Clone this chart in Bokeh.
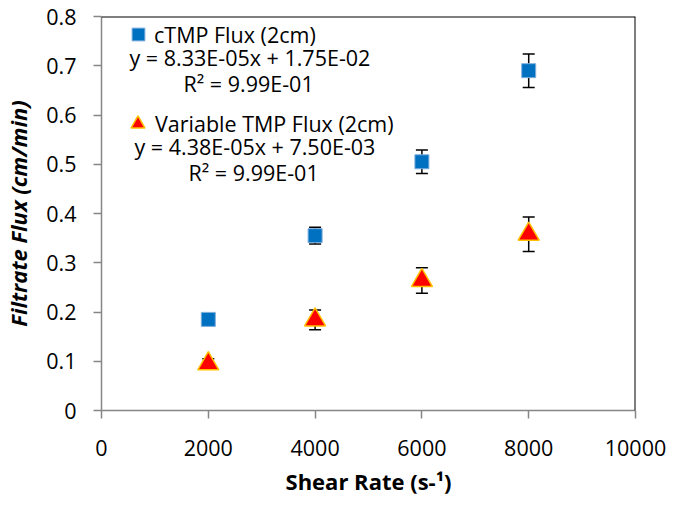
from bokeh.plotting import figure
from bokeh.models import (ColumnDataSource, Whisker, TeeHead, Label, Legend, LegendItem,
                          Span, FixedTicker, CustomJSTickFormatter, Range1d)
from bokeh.embed import file_html
from bokeh.resources import INLINE

# ---- data ----
shear_rate = [2000, 4000, 6000, 8000]
ctmp_flux = [0.185, 0.355, 0.505, 0.690]
ctmp_err = [0.008, 0.017, 0.024, 0.034]
var_flux = [0.095, 0.184, 0.264, 0.358]
var_err = [0.010, 0.020, 0.026, 0.035]

x_ticks = [0, 2000, 4000, 6000, 8000, 10000]
y_ticks = [0, 0.1, 0.2, 0.3, 0.4, 0.5, 0.6, 0.7, 0.8]

ctmp_name = "cTMP Flux (2cm)"
ctmp_eq = "y = 8.33E-05x + 1.75E-02"
ctmp_r2 = "R² = 9.99E-01"
var_name = "Variable TMP Flux (2cm)"
var_eq = "y = 4.38E-05x + 7.50E-03"
var_r2 = "R² = 9.99E-01"

FONT = "Open Sans"
TICK_FS = "21.5px"
TXT_FS = "21.5px"
AX_GRAY = "#868686"

p = figure(width=667, height=498, output_backend="svg", toolbar_location=None,
           x_range=Range1d(0, 10000), y_range=Range1d(0, 0.8),
           min_border_left=98, min_border_right=32, min_border_top=16, min_border_bottom=88)
p.outline_line_color = None
p.xgrid.visible = False
p.ygrid.visible = False
p.background_fill_color = "white"

for ax in (p.xaxis[0], p.yaxis[0]):
    ax.axis_line_color = AX_GRAY
    ax.axis_line_width = 1.5
    ax.major_tick_line_color = AX_GRAY
    ax.major_tick_line_width = 1.5
    ax.major_tick_out = 8
    ax.major_tick_in = 0
    ax.minor_tick_line_color = None
    ax.major_label_text_font = FONT
    ax.major_label_text_font_size = TICK_FS
    ax.major_label_text_color = "black"
    ax.axis_label_text_font = FONT
    ax.axis_label_text_font_size = "22px"
    ax.axis_label_text_color = "black"

p.xaxis[0].ticker = FixedTicker(ticks=x_ticks)
p.yaxis[0].ticker = FixedTicker(ticks=y_ticks)
p.yaxis[0].formatter = CustomJSTickFormatter(code="return tick.toFixed(1).replace(/\\.0$/, '');")
p.xaxis[0].major_label_standoff = 21
p.yaxis[0].major_label_standoff = 17

p.xaxis[0].axis_label = "Shear Rate (s-¹)"
p.xaxis[0].axis_label_text_font_style = "bold"
p.xaxis[0].axis_label_standoff = 7

p.yaxis[0].axis_label = "Filtrate Flux (cm/min)"
p.yaxis[0].axis_label_text_font_style = "bold italic"
p.yaxis[0].axis_label_standoff = 10

# black top / right borders
p.add_layout(Span(location=0.8, dimension="width", line_color="black", line_width=2))
p.add_layout(Span(location=10000, dimension="height", line_color="black", line_width=2))

src_c = ColumnDataSource(dict(x=shear_rate, y=ctmp_flux,
                              lo=[v - e for v, e in zip(ctmp_flux, ctmp_err)],
                              hi=[v + e for v, e in zip(ctmp_flux, ctmp_err)]))
src_v = ColumnDataSource(dict(x=shear_rate, y=var_flux,
                              lo=[v - e for v, e in zip(var_flux, var_err)],
                              hi=[v + e for v, e in zip(var_flux, var_err)]))
for src in (src_c, src_v):
    w = Whisker(source=src, base="x", lower="lo", upper="hi", dimension="height",
                line_color="black", line_width=1.5,
                upper_head=TeeHead(size=12, line_color="black", line_width=1.5),
                lower_head=TeeHead(size=12, line_color="black", line_width=1.5),
                level="underlay")
    p.add_layout(w)

r_c = p.scatter("x", "y", source=src_c, marker="square", size=14,
                fill_color="#0070C0", line_color="#7FAEDC", line_width=1)
r_v = p.scatter("x", "y", source=src_v, marker="triangle", size=21,
                fill_color="#FF0000", line_color="#FFC000", line_width=1.5)

leg1 = Legend(items=[LegendItem(label=ctmp_name, renderers=[r_c])],
              location=(21, 360), glyph_width=32, glyph_height=32, label_standoff=-8,
              padding=0, margin=0, border_line_color=None, background_fill_alpha=0,
              label_text_font=FONT, label_text_font_size=TXT_FS, label_text_color="black")
leg2 = Legend(items=[LegendItem(label=var_name, renderers=[r_v])],
              location=(19, 269), glyph_width=35, glyph_height=35, label_standoff=-8,
              padding=0, margin=0, border_line_color=None, background_fill_alpha=0,
              label_text_font=FONT, label_text_font_size=TXT_FS, label_text_color="black")
p.add_layout(leg1)
p.add_layout(leg2)

for txt, x, y in ((ctmp_eq, 28, 353), (ctmp_r2, 82, 327), (var_eq, 33, 264), (var_r2, 87, 238)):
    p.add_layout(Label(x=x, y=y, x_units="screen", y_units="screen", text=txt,
                       text_font=FONT, text_font_size=TXT_FS, text_baseline="middle",
                       text_align="left", text_color="black"))

open("out.html", "w").write(file_html(p, INLINE))
